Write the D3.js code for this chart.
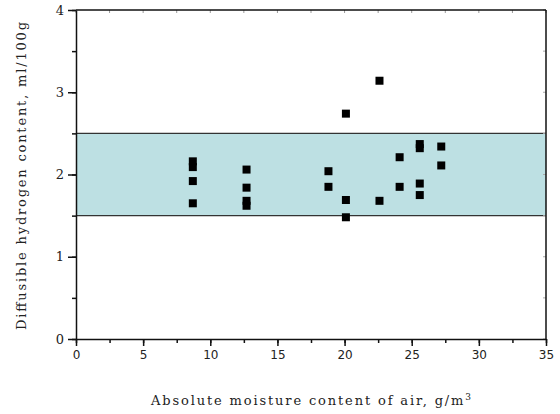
<!DOCTYPE html>
<meta charset="utf-8">
<style>
body { margin: 0; background: #fff; }
svg text { fill: #222; }
.tick-x { font-family: 'DejaVu Sans', sans-serif; font-size: 12px; }
.tick-y { font-family: 'DejaVu Serif', serif; font-size: 13px; }
.title { font-family: 'DejaVu Serif', serif; font-size: 13px; }
</style>
<body>
<svg id="chart" width="560" height="414"></svg>
<script src="https://d3js.org/d3.v7.min.js"></script>
<script>
// moisture content of air (g/m3) vs diffusible hydrogen (ml/100g)
var moisture = [8.7, 8.7, 8.7, 8.7, 12.7, 12.7, 12.7, 12.7, 18.8, 18.8,
                20.1, 20.1, 20.1, 22.6, 22.6, 24.1, 24.1, 25.6, 25.6, 25.6, 25.6,
                27.2, 27.2];
var hydrogen = [2.16, 2.09, 1.92, 1.65, 2.06, 1.84, 1.68, 1.62, 2.04, 1.85,
                2.74, 1.69, 1.48, 3.14, 1.68, 2.21, 1.85, 2.37, 2.32, 1.89, 1.75,
                2.34, 2.11];
var band = [1.5, 2.5];
var xTicks = [0, 5, 10, 15, 20, 25, 30, 35];
var yTicks = [0, 1, 2, 3, 4];

var svg = d3.select("#chart");
var x = d3.scaleLinear().domain([0, 35]).range([76, 546]);
var y = d3.scaleLinear().domain([0, 4]).range([339, 10]);

// acceptable band
svg.append("rect")
    .attr("x", x(0)).attr("width", x(35) - x(0))
    .attr("y", y(band[1])).attr("height", y(band[0]) - y(band[1]))
    .attr("fill", "#bde0e3");
band.forEach(function(b) {
  svg.append("line")
      .attr("x1", x(0)).attr("x2", x(35))
      .attr("y1", y(b)).attr("y2", y(b))
      .attr("stroke", "#333").attr("stroke-width", 1.2);
});

// faint ticks on top / right frame
var minorX = d3.range(0, 35.01, 2.5);
var minorY = d3.range(0, 4.01, 0.5);
svg.append("g").selectAll("line").data(minorX).enter().append("line")
    .attr("x1", d => x(d)).attr("x2", d => x(d))
    .attr("y1", y(4)).attr("y2", y(4) + 3)
    .attr("stroke", "#999");
svg.append("g").selectAll("line").data(minorY).enter().append("line")
    .attr("x1", x(35) - 3).attr("x2", x(35))
    .attr("y1", d => y(d)).attr("y2", d => y(d))
    .attr("stroke", "#aaa");
svg.append("line").attr("x1", x(0)).attr("x2", x(35)).attr("y1", y(4)).attr("y2", y(4))
    .attr("stroke", "#111").attr("stroke-width", 1.5);
svg.append("line").attr("x1", x(35)).attr("x2", x(35)).attr("y1", y(4)).attr("y2", y(0))
    .attr("stroke", "#111").attr("stroke-width", 1.5);

// bottom axis
var gx = svg.append("g").attr("transform", "translate(0," + y(0) + ")");
gx.call(d3.axisBottom(x).tickValues(minorX).tickSize(4).tickFormat(""));
gx.call(g => g.select(".domain").remove());
var gx2 = svg.append("g").attr("transform", "translate(0," + y(0) + ")")
    .call(d3.axisBottom(x).tickValues(xTicks).tickSize(7).tickSizeOuter(0)
      .tickPadding(4).tickFormat(d3.format("d")));
gx2.selectAll("text").attr("class", "tick-x").attr("font-family", null).attr("font-size", null);

// left axis
var gy = svg.append("g").attr("transform", "translate(" + x(0) + ",0)");
gy.call(d3.axisLeft(y).tickValues(minorY).tickSize(4).tickFormat(""));
gy.call(g => g.select(".domain").remove());
var gy2 = svg.append("g").attr("transform", "translate(" + x(0) + ",0)")
    .call(d3.axisLeft(y).tickValues(yTicks).tickSize(8).tickSizeOuter(0)
      .tickPadding(4).tickFormat(d3.format("d")));
gy2.selectAll("text").attr("class", "tick-y").attr("font-family", null).attr("font-size", null);
svg.selectAll(".domain, .tick line").attr("stroke", "#111").attr("stroke-width", 1.5);

// points
var s = 8;
svg.append("g").selectAll("rect").data(moisture).enter().append("rect")
    .attr("x", (d, i) => x(d) - s / 2)
    .attr("y", (d, i) => y(hydrogen[i]) - s / 2)
    .attr("width", s).attr("height", s)
    .attr("fill", "#000");

// axis titles
var xt = svg.append("text").attr("class", "title")
    .attr("x", 311).attr("y", 405)
    .attr("text-anchor", "middle")
    .attr("textLength", 320).attr("lengthAdjust", "spacing")
    .text("Absolute moisture content of air, g/m");
xt.append("tspan").attr("dy", -5).attr("font-size", "9px").text("3");

svg.append("text").attr("class", "title")
    .attr("transform", "translate(26,176) rotate(-90)")
    .attr("text-anchor", "middle")
    .attr("textLength", 308).attr("lengthAdjust", "spacing")
    .text("Diffusible hydrogen content, ml/100g");
</script>
</body>
